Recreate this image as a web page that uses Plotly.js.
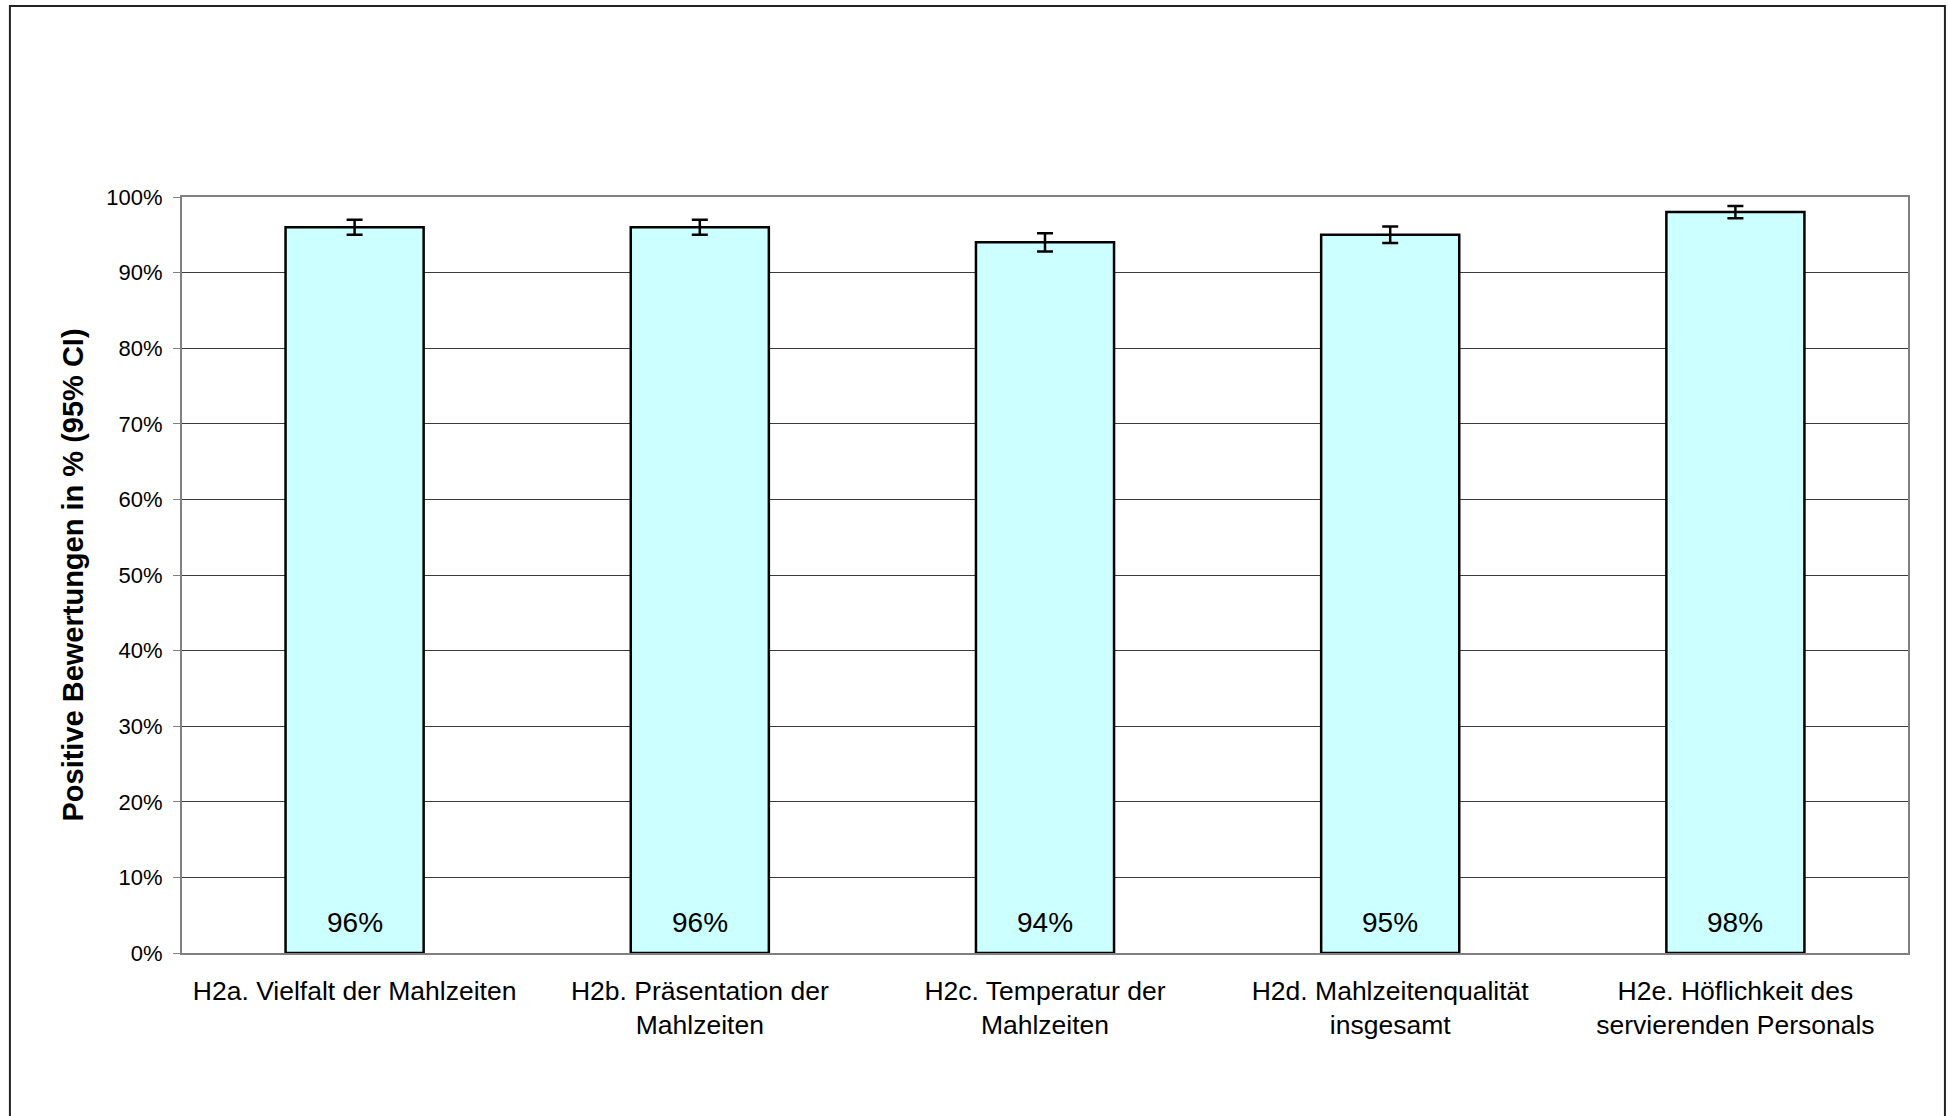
<!DOCTYPE html>
<html>
<head>
<meta charset="utf-8">
<script src="https://cdn.plot.ly/plotly-3.0.1.min.js"></script>
<style>
  html, body { margin: 0; padding: 0; background: #fff; }
  #chart { width: 1948px; height: 1116px; }
</style>
</head>
<body>
<div id="chart"></div>
<script>
const categories = ["H2a", "H2b", "H2c", "H2d", "H2e"];
const categoryLabels = [
  "H2a. Vielfalt der Mahlzeiten",
  "H2b. Präsentation der<br>Mahlzeiten",
  "H2c. Temperatur der<br>Mahlzeiten",
  "H2d. Mahlzeitenqualität<br>insgesamt",
  "H2e. Höflichkeit des<br>servierenden Personals"
];
const positiveShare = [0.96, 0.96, 0.94, 0.95, 0.98];
const ciHalfWidth = [0.010, 0.010, 0.012, 0.011, 0.008];
const valueLabels = ["96%", "96%", "94%", "95%", "98%"];
const yTickValues = [0, 0.1, 0.2, 0.3, 0.4, 0.5, 0.6, 0.7, 0.8, 0.9, 1.0];
const yTitle = "Positive Bewertungen in % (95% CI)";

const FONT = "Arial, 'Liberation Sans', sans-serif";

const trace = {
  type: "bar",
  x: categories,
  y: positiveShare,
  width: 0.4,
  marker: { color: "#CCFFFF", line: { color: "#000000", width: 2.5 } },
  error_y: { type: "data", array: ciHalfWidth, visible: true, color: "#000000", thickness: 2.5, width: 8 },
  hoverinfo: "none",
  showlegend: false
};

const annotations = categories.map((c, i) => ({
  x: c, y: 0, xref: "x", yref: "y",
  text: valueLabels[i], showarrow: false,
  yanchor: "middle", yshift: 31,
  font: { family: FONT, size: 28, color: "#000000" }
}));

const layout = {
  width: 1948, height: 1116,
  margin: { l: 182, r: 40, t: 197, b: 163, autoexpand: false },
  paper_bgcolor: "#ffffff", plot_bgcolor: "#ffffff",
  font: { family: FONT, color: "#000000" },
  bargap: 0.6,
  xaxis: {
    type: "category",
    tickvals: categories, ticktext: categoryLabels,
    tickfont: { family: FONT, size: 26.5, color: "#000000" },
    showline: true, linecolor: "#808080", linewidth: 2, mirror: true,
    showgrid: false, ticks: "", ticklabelstandoff: 13,
    automargin: false, fixedrange: true
  },
  yaxis: {
    range: [0, 1], tickvals: yTickValues, tickformat: ".0%",
    tickfont: { family: FONT, size: 22, color: "#000000" },
    showline: true, linecolor: "#808080", linewidth: 2, mirror: true,
    showgrid: true, gridcolor: "#3a3a3a", gridwidth: 1,
    ticks: "outside", ticklen: 7, tickcolor: "#808080", tickwidth: 1,
    ticklabelstandoff: 6,
    zeroline: false,
    title: { text: yTitle, font: { family: FONT, size: 29, weight: "bold", color: "#000000" }, standoff: 14 },
    automargin: false, fixedrange: true
  },
  shapes: [{
    type: "rect", xref: "paper", yref: "paper",
    x0: -0.0997, x1: 1.0214, y0: -0.25, y1: 1.2526,
    line: { color: "#222222", width: 2 }, fillcolor: "rgba(0,0,0,0)", layer: "below"
  }],
  annotations: annotations
};

Plotly.newPlot("chart", [trace], layout, { displayModeBar: false, staticPlot: true });
</script>
</body>
</html>
